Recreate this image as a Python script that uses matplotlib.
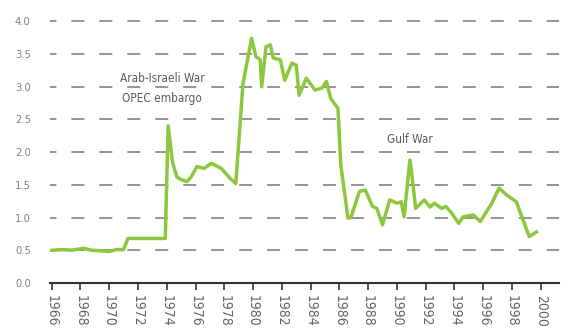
import matplotlib.pyplot as plt
import numpy as np

# price series, read as (year, value) pairs
years = [1966.0, 1966.8, 1967.4, 1968.2, 1968.8, 1969.5, 1970.0, 1970.5, 1971.0,
         1971.3, 1971.6, 1972.5, 1973.9, 1974.1, 1974.4, 1974.7, 1975.0, 1975.4,
         1975.7, 1976.1, 1976.6, 1977.1, 1977.8, 1978.4, 1978.8, 1979.3, 1979.9,
         1980.2, 1980.5, 1980.6, 1980.9, 1981.2, 1981.4, 1981.9, 1982.2, 1982.7,
         1983.0, 1983.2, 1983.7, 1984.3, 1984.8, 1985.1, 1985.4, 1985.9, 1986.1,
         1986.6, 1986.8, 1987.4, 1987.8, 1988.3, 1988.6, 1989.0, 1989.5, 1990.0,
         1990.3, 1990.5, 1990.9, 1991.0, 1991.3, 1991.9, 1992.3, 1992.6, 1993.1,
         1993.4, 1993.8, 1994.3, 1994.6, 1995.3, 1995.8, 1996.6, 1997.1, 1997.6,
         1998.3, 1999.2, 1999.7]
price = [0.50, 0.51, 0.50, 0.53, 0.50, 0.49, 0.48, 0.51, 0.51,
         0.68, 0.68, 0.68, 0.68, 2.40, 1.85, 1.62, 1.58, 1.55,
         1.62, 1.78, 1.75, 1.83, 1.75, 1.60, 1.52, 3.05, 3.74,
         3.46, 3.41, 3.00, 3.61, 3.64, 3.44, 3.41, 3.10, 3.36,
         3.33, 2.87, 3.13, 2.95, 2.98, 3.08, 2.82, 2.67, 1.80,
         0.99, 1.00, 1.40, 1.42, 1.17, 1.14, 0.89, 1.27, 1.22,
         1.24, 1.01, 1.88, 1.73, 1.14, 1.27, 1.16, 1.22, 1.14,
         1.17, 1.07, 0.91, 1.01, 1.04, 0.94, 1.22, 1.45, 1.35,
         1.24, 0.71, 0.78]

yticks = [0.0, 0.5, 1.0, 1.5, 2.0, 2.5, 3.0, 3.5, 4.0]
xticks = list(range(1966, 2001, 2))

plt.rcParams['font.family'] = ['DejaVu Sans']
plt.rcParams['font.stretch'] = 'condensed'

fig = plt.figure(figsize=(5.64, 3.29), dpi=100)
ax = fig.add_axes([0.089, 0.14, 0.903, 0.825])

# long grey dashes for the horizontal grid
for v in yticks[1:]:
    ax.axhline(v, color='#777777', lw=1.1, ls=(4.3, (8.5, 9.8)), zorder=1)

ax.plot(years, price, color='#8dc63f', lw=2.5, zorder=3, solid_joinstyle='round')

ax.set_xlim(1965.9, 2001.3)
ax.set_ylim(0, 4.15)
ax.set_yticks(yticks)
ax.set_yticklabels(['%.1f' % v for v in yticks], color='#808080', fontsize=8)
ax.set_xticks(xticks)
ax.set_xticklabels([str(x) for x in xticks], rotation=-90, color='#666666', fontsize=10)

for s in ['top', 'right', 'left']:
    ax.spines[s].set_visible(False)
ax.spines['bottom'].set_color('#333333')
ax.spines['bottom'].set_linewidth(1.5)
ax.tick_params(axis='y', length=0, pad=14)
ax.tick_params(axis='x', direction='out', length=5, width=1.2, color='#333333', pad=4)

ax.text(1973.7, 2.98, 'Arab-Israeli War\nOPEC embargo', ha='center', va='center',
        fontsize=8.5, color='#5a5a5a', linespacing=1.7)
ax.text(1990.9, 2.2, 'Gulf War', ha='center', va='center', fontsize=8.5, color='#5a5a5a')

plt.savefig('out.png', dpi=100)
